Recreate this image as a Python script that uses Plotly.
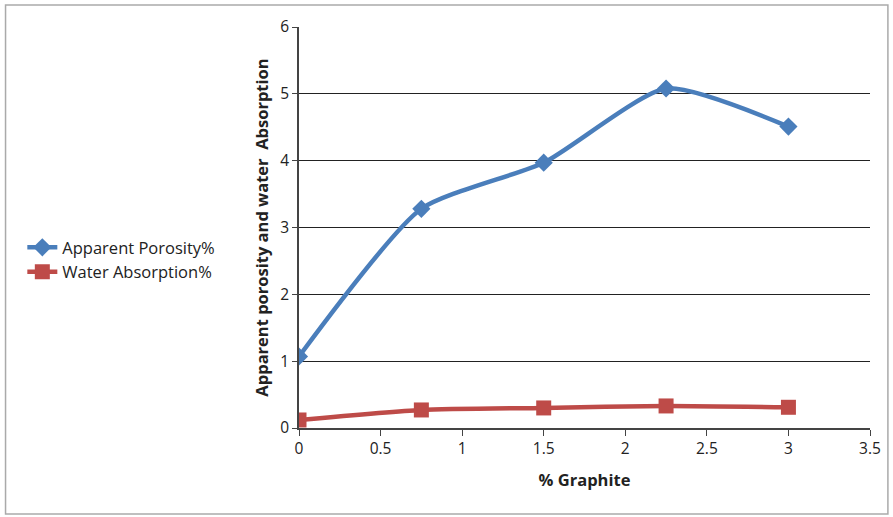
import plotly.graph_objects as go

graphite = [0, 0.75, 1.5, 2.25, 3]
porosity = [1.07, 3.28, 3.97, 5.08, 4.51]
water_abs = [0.12, 0.27, 0.30, 0.33, 0.31]

W, H = 893, 517
L, R, T, B = 299, 20, 27, 89
pw = W - L - R
ph = H - T - B

fig = go.Figure()
fig.add_trace(go.Scatter(
    x=graphite, y=porosity, name="Apparent Porosity%",
    mode="lines+markers", line=dict(color="#4a7ebb", width=4.5, shape="spline", smoothing=0.6),
    marker=dict(symbol="diamond", size=14, color="#4a7ebb")))
fig.add_trace(go.Scatter(
    x=graphite, y=water_abs, name="Water Absorption%",
    mode="lines+markers", line=dict(color="#be4b48", width=4.5, shape="spline", smoothing=0.6),
    marker=dict(symbol="square", size=15, color="#be4b48")))

font_family = "Open Sans, Liberation Sans, sans-serif"
fig.update_layout(
    width=W, height=H,
    margin=dict(l=L, r=R, t=T, b=B),
    paper_bgcolor="white", plot_bgcolor="white",
    font=dict(family=font_family, size=15, color="#222"),
    showlegend=True,
    legend=dict(xref="container", yref="container", x=0.025, y=0.555,
                xanchor="left", yanchor="top", font=dict(size=16.5),
                tracegroupgap=7, itemwidth=30, bgcolor="rgba(0,0,0,0)"),
    xaxis=dict(range=[0, 3.5], dtick=0.5, showgrid=False, showline=True,
               linecolor="#444", linewidth=1.5, ticks="outside", ticklen=6,
               tickcolor="#444", zeroline=False, tickfont=dict(size=15.5),
               title=dict(text="<b>% Graphite</b>", font=dict(size=16.5), standoff=16)),
    yaxis=dict(range=[0, 6], dtick=1, showgrid=True, gridcolor="#222", gridwidth=1.3,
               showline=True, linecolor="#444", linewidth=1.5, ticks="outside",
               ticklen=5, tickcolor="#444", zeroline=False, tickfont=dict(size=15.5),
               title=dict(text="<b>Apparent porosity and water  Absorption</b>",
                          font=dict(size=16.5), standoff=8)),
)
# outer frame
fig.add_shape(type="rect", xref="paper", yref="paper",
              x0=(4 - L) / pw, x1=(891 - L) / pw,
              y0=(H - B - 514) / ph, y1=(H - B - 5) / ph,
              line=dict(color="#aaa", width=1.5), layer="below")

fig.write_html("out.html")
